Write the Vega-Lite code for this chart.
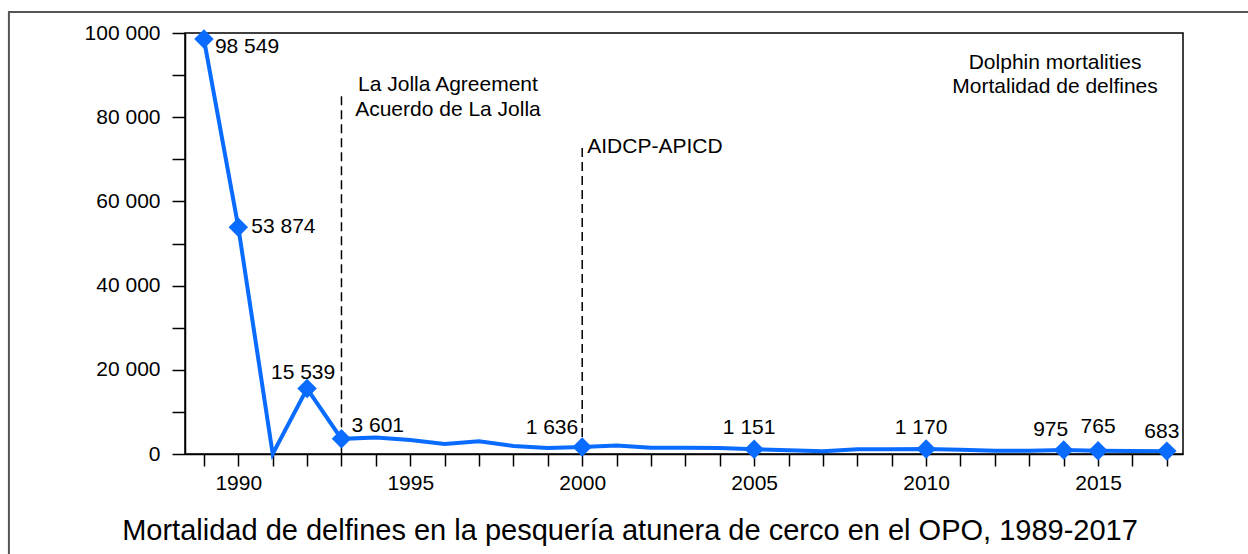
{
  "$schema": "https://vega.github.io/schema/vega-lite/v6.json",
  "width": 998,
  "height": 421,
  "autosize": {"type": "none"},
  "padding": {"left": 185, "top": 33, "right": 65, "bottom": 100},
  "config": {
    "locale": {"number": {"decimal": ".", "thousands": " ", "grouping": [3], "currency": ["", ""]}},
    "font": "Liberation Sans",
    "view": {"stroke": "#000", "strokeWidth": 1.5},
    "axis": {"grid": false, "domainColor": "#000", "domainWidth": 1.5, "tickColor": "#000", "tickWidth": 1.5, "labelFontSize": 21, "labelColor": "#000", "labelFont": "Liberation Sans", "title": null},
    "text": {"font": "Liberation Sans", "fontSize": 21, "color": "#000"}
  },
  "title": {"text": "Mortalidad de delfines en la pesquería atunera de cerco en el OPO, 1989-2017", "orient": "bottom", "anchor": "middle", "frame": "group", "fontSize": 29, "fontWeight": "normal", "color": "#000", "font": "Liberation Sans", "offset": -85, "dx": -54},
  "datasets": {
    "mort": [
      {"year": 1989, "v": 98549}, {"year": 1990, "v": 53874}, {"year": 1991, "v": 0},
      {"year": 1992, "v": 15539}, {"year": 1993, "v": 3601}, {"year": 1994, "v": 3900},
      {"year": 1995, "v": 3300}, {"year": 1996, "v": 2400}, {"year": 1997, "v": 3000},
      {"year": 1998, "v": 1900}, {"year": 1999, "v": 1450}, {"year": 2000, "v": 1636},
      {"year": 2001, "v": 2000}, {"year": 2002, "v": 1500}, {"year": 2003, "v": 1500},
      {"year": 2004, "v": 1450}, {"year": 2005, "v": 1151}, {"year": 2006, "v": 900},
      {"year": 2007, "v": 650}, {"year": 2008, "v": 1100}, {"year": 2009, "v": 1150},
      {"year": 2010, "v": 1170}, {"year": 2011, "v": 1000}, {"year": 2012, "v": 800},
      {"year": 2013, "v": 780}, {"year": 2014, "v": 975}, {"year": 2015, "v": 765},
      {"year": 2016, "v": 720}, {"year": 2017, "v": 683}
    ],
    "events": [
      {"year": 1993, "top": 85000, "label": "La Jolla Agreement\nAcuerdo de La Jolla"},
      {"year": 2000, "top": 72700, "label": "AIDCP-APICD"}
    ],
    "note": [
      {"year": 2013.75, "v": 91449, "label": "Dolphin mortalities\nMortalidad de delfines"}
    ],
    "frame": [
      {"x1": 1983.33, "x2": 2021, "y1": 104988, "y2": -35000}
    ]
  },
  "layer": [
    {
      "data": {"name": "frame"},
      "mark": {"type": "rect", "fill": null, "stroke": "#555", "strokeWidth": 2, "clip": false},
      "encoding": {
        "x": {"field": "x1", "type": "quantitative", "scale": {"domain": [1988.45, 2017.47], "nice": false, "zero": false},
          "axis": {"values": [1989,1990,1991,1992,1993,1994,1995,1996,1997,1998,1999,2000,2001,2002,2003,2004,2005,2006,2007,2008,2009,2010,2011,2012,2013,2014,2015,2016,2017],
            "tickCount": 60, "tickSize": 12, "labelPadding": 6, "labelExpr": "datum.value % 5 == 0 ? format(datum.value, 'd') : ''", "labelFlush": false, "labelOverlap": false}},
        "x2": {"field": "x2"},
        "y": {"field": "y1", "type": "quantitative", "scale": {"domain": [0, 100000], "nice": false},
          "axis": {"values": [0,10000,20000,30000,40000,50000,60000,70000,80000,90000,100000], "format": ",d", "tickCount": 30,
            "tickSize": 13, "labelPadding": 12, "labelExpr": "datum.value % 20000 == 0 ? datum.label : ''", "labelFlush": false, "labelOverlap": false}},
        "y2": {"field": "y2"}
      }
    },
    {
      "data": {"name": "events"},
      "mark": {"type": "rule", "strokeDash": [9, 5], "strokeWidth": 1.5, "color": "#000"},
      "encoding": {
        "x": {"field": "year", "type": "quantitative"},
        "y": {"field": "top", "type": "quantitative"},
        "y2": {"datum": 0}
      }
    },
    {
      "data": {"name": "events"},
      "transform": [{"filter": "datum.year == 1993"}],
      "mark": {"type": "text", "align": "center", "baseline": "alphabetic", "dx": 106.5, "dy": -5, "lineBreak": "\n", "lineHeight": 25},
      "encoding": {
        "x": {"field": "year", "type": "quantitative"},
        "y": {"field": "top", "type": "quantitative"},
        "text": {"field": "label"}
      }
    },
    {
      "data": {"name": "events"},
      "transform": [{"filter": "datum.year == 2000"}],
      "mark": {"type": "text", "align": "left", "baseline": "alphabetic", "dx": 5, "dy": 5},
      "encoding": {
        "x": {"field": "year", "type": "quantitative"},
        "y": {"field": "top", "type": "quantitative"},
        "text": {"field": "label"}
      }
    },
    {
      "data": {"name": "note"},
      "mark": {"type": "text", "align": "center", "baseline": "alphabetic", "lineBreak": "\n", "lineHeight": 24},
      "encoding": {
        "x": {"field": "year", "type": "quantitative"},
        "y": {"field": "v", "type": "quantitative"},
        "text": {"field": "label"}
      }
    },
    {
      "data": {"name": "mort"},
      "mark": {"type": "line", "color": "#0A6CFF", "strokeWidth": 4},
      "encoding": {
        "x": {"field": "year", "type": "quantitative"},
        "y": {"field": "v", "type": "quantitative"}
      }
    },
    {
      "data": {"name": "mort"},
      "transform": [{"filter": {"field": "year", "oneOf": [1989, 1990, 1992, 1993, 2000, 2005, 2010, 2014, 2015, 2017]}}],
      "mark": {"type": "point", "shape": "diamond", "size": 380, "filled": true, "color": "#0A6CFF", "opacity": 1},
      "encoding": {
        "x": {"field": "year", "type": "quantitative"},
        "y": {"field": "v", "type": "quantitative"}
      }
    },
    {
      "data": {"name": "mort"},
      "transform": [{"filter": "datum.year == 1989"}],
      "mark": {"type": "text", "align": "left", "baseline": "alphabetic", "dx": 11, "dy": 14},
      "encoding": {"x": {"field": "year", "type": "quantitative"}, "y": {"field": "v", "type": "quantitative"}, "text": {"field": "v", "format": ",d"}}
    },
    {
      "data": {"name": "mort"},
      "transform": [{"filter": "datum.year == 1990"}],
      "mark": {"type": "text", "align": "left", "baseline": "alphabetic", "dx": 13, "dy": 6},
      "encoding": {"x": {"field": "year", "type": "quantitative"}, "y": {"field": "v", "type": "quantitative"}, "text": {"field": "v", "format": ",d"}}
    },
    {
      "data": {"name": "mort"},
      "transform": [{"filter": "datum.year == 1992"}],
      "mark": {"type": "text", "align": "center", "baseline": "alphabetic", "dx": -4, "dy": -10},
      "encoding": {"x": {"field": "year", "type": "quantitative"}, "y": {"field": "v", "type": "quantitative"}, "text": {"field": "v", "format": ",d"}}
    },
    {
      "data": {"name": "mort"},
      "transform": [{"filter": "datum.year == 1993"}],
      "mark": {"type": "text", "align": "left", "baseline": "alphabetic", "dx": 10, "dy": -7},
      "encoding": {"x": {"field": "year", "type": "quantitative"}, "y": {"field": "v", "type": "quantitative"}, "text": {"field": "v", "format": ",d"}}
    },
    {
      "data": {"name": "mort"},
      "transform": [{"filter": "datum.year == 2000"}],
      "mark": {"type": "text", "align": "right", "baseline": "alphabetic", "dx": -4, "dy": -13},
      "encoding": {"x": {"field": "year", "type": "quantitative"}, "y": {"field": "v", "type": "quantitative"}, "text": {"field": "v", "format": ",d"}}
    },
    {
      "data": {"name": "mort"},
      "transform": [{"filter": "datum.year == 2005 || datum.year == 2010"}],
      "mark": {"type": "text", "align": "center", "baseline": "alphabetic", "dx": -5, "dy": -15},
      "encoding": {"x": {"field": "year", "type": "quantitative"}, "y": {"field": "v", "type": "quantitative"}, "text": {"field": "v", "format": ",d"}}
    },
    {
      "data": {"name": "mort"},
      "transform": [{"filter": "datum.year == 2014"}],
      "mark": {"type": "text", "align": "center", "baseline": "alphabetic", "dx": -13, "dy": -14},
      "encoding": {"x": {"field": "year", "type": "quantitative"}, "y": {"field": "v", "type": "quantitative"}, "text": {"field": "v", "format": ",d"}}
    },
    {
      "data": {"name": "mort"},
      "transform": [{"filter": "datum.year == 2015"}],
      "mark": {"type": "text", "align": "center", "baseline": "alphabetic", "dx": 0, "dy": -18},
      "encoding": {"x": {"field": "year", "type": "quantitative"}, "y": {"field": "v", "type": "quantitative"}, "text": {"field": "v", "format": ",d"}}
    },
    {
      "data": {"name": "mort"},
      "transform": [{"filter": "datum.year == 2017"}],
      "mark": {"type": "text", "align": "center", "baseline": "alphabetic", "dx": -5, "dy": -13},
      "encoding": {"x": {"field": "year", "type": "quantitative"}, "y": {"field": "v", "type": "quantitative"}, "text": {"field": "v", "format": ",d"}}
    }
  ]
}
